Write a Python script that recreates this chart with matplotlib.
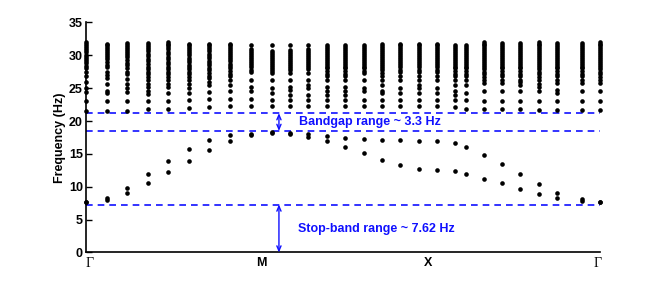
import matplotlib
matplotlib.use("Agg")
import matplotlib.pyplot as plt

# k-path positions of the computed columns (normalised 0..1 along Γ-M-X-Γ)
k_points = [0.0, 0.0408, 0.0808, 0.1205, 0.1605, 0.2007, 0.2402, 0.2804, 0.3212,
            0.3614, 0.3971, 0.4326, 0.4683, 0.5045, 0.5402, 0.5758, 0.6113, 0.6471,
            0.6827, 0.7186, 0.7384, 0.7740, 0.8090, 0.8440, 0.8803, 0.9153, 0.9639, 1.0]

# two lowest bands
band1 = [7.73, 8.0, 9.1, 10.5, 12.2, 13.9, 15.55, 16.95, 17.9, 18.25, 18.1, 17.6, 16.97, 16.06,
         15.1, 14.1, 13.3, 12.7, 12.5, 12.4, 11.95, 11.2, 10.5, 9.6, 8.9, 8.25, 7.9, 7.73]
band2 = [7.73, 8.25, 9.86, 11.9, 13.9, 15.8, 17.1, 17.95, 18.1, 18.3, 18.15, 18.1, 17.8, 17.4,
         17.2, 17.1, 17.1, 17.0, 17.0, 16.7, 16.0, 14.9, 13.5, 11.95, 10.4, 9.06, 8.14, 7.75]

# upper (optical) bands, one list per column
upper_bands = [
    [32.0, 31.7, 31.4, 31.1, 30.8, 30.5, 30.1, 29.8, 29.5, 29.1, 28.8, 28.4, 28.0, 27.4, 26.9, 26.0, 25.0, 24.4, 23.0, 21.6],
    [31.8, 31.5, 31.2, 30.9, 30.6, 30.3, 30.0, 29.7, 29.4, 29.0, 28.6, 28.2, 27.5, 27.0, 26.6, 25.6, 24.6, 24.3, 23.0, 21.6],
    [31.9, 31.6, 31.3, 31.0, 30.7, 30.4, 30.0, 29.7, 29.3, 28.9, 28.5, 28.0, 27.5, 27.1, 26.4, 25.7, 25.0, 24.4, 23.0, 21.6],
    [31.9, 31.6, 31.3, 31.0, 30.6, 30.2, 29.9, 29.5, 29.1, 28.7, 28.3, 27.9, 27.5, 27.1, 26.7, 26.2, 25.7, 25.2, 24.6, 24.1, 23.0, 21.8],
    [32.1, 31.8, 31.5, 31.2, 30.9, 30.5, 30.2, 29.8, 29.4, 29.0, 28.7, 28.3, 27.9, 27.5, 27.1, 26.7, 26.2, 25.7, 25.2, 24.2, 23.0, 21.9],
    [31.8, 31.5, 31.2, 30.9, 30.6, 30.3, 30.0, 29.6, 29.3, 29.0, 28.6, 28.2, 27.9, 27.5, 27.1, 26.7, 26.2, 25.7, 25.0, 24.2, 23.2, 22.0],
    [31.8, 31.5, 31.2, 30.9, 30.6, 30.2, 29.9, 29.6, 29.2, 28.9, 28.5, 28.1, 27.7, 27.3, 26.9, 26.5, 26.0, 25.5, 24.4, 23.3, 22.2],
    [31.8, 31.5, 31.2, 30.9, 30.6, 30.3, 30.0, 29.7, 29.4, 29.1, 28.7, 28.4, 28.0, 27.6, 27.2, 26.8, 26.2, 25.5, 24.5, 23.3, 22.3],
    [31.6, 30.9, 30.6, 30.3, 30.0, 29.7, 29.4, 29.1, 28.8, 28.5, 28.2, 27.8, 27.4, 26.3, 25.2, 24.5, 23.3, 22.3],
    [31.6, 30.6, 30.3, 30.0, 29.7, 29.4, 29.1, 28.8, 28.5, 28.2, 27.9, 27.6, 27.3, 26.3, 25.0, 24.2, 23.2, 22.3],
    [31.6, 30.8, 30.5, 30.2, 29.9, 29.6, 29.3, 29.0, 28.7, 28.4, 28.1, 27.8, 27.3, 26.3, 25.2, 24.7, 24.0, 23.2, 22.3],
    [31.6, 30.9, 30.6, 30.3, 30.0, 29.7, 29.4, 29.1, 28.8, 28.5, 28.2, 27.9, 27.3, 26.3, 25.5, 25.0, 24.0, 23.2, 22.3],
    [31.6, 31.3, 31.0, 30.7, 30.4, 30.1, 29.8, 29.5, 29.2, 28.9, 28.6, 28.3, 28.0, 27.6, 27.2, 26.8, 26.3, 25.2, 24.5, 24.0, 23.2, 22.3],
    [31.6, 31.3, 31.0, 30.7, 30.4, 30.1, 29.8, 29.5, 29.2, 28.9, 28.6, 28.3, 28.0, 27.6, 27.2, 26.8, 26.3, 25.2, 24.5, 24.0, 23.2, 22.3],
    [31.6, 31.3, 31.0, 30.7, 30.4, 30.1, 29.8, 29.5, 29.2, 28.9, 28.6, 28.3, 28.0, 27.6, 27.3, 26.3, 25.0, 24.5, 23.2, 22.3],
    [31.7, 31.4, 31.1, 30.8, 30.5, 30.2, 29.9, 29.6, 29.3, 29.0, 28.7, 28.4, 28.1, 27.7, 27.3, 26.8, 26.3, 25.5, 24.5, 24.2, 23.2, 22.3],
    [31.8, 31.5, 31.2, 30.9, 30.6, 30.3, 30.0, 29.7, 29.4, 29.1, 28.8, 28.5, 28.2, 27.8, 27.4, 26.8, 26.3, 25.0, 24.2, 23.2, 22.3],
    [31.8, 31.5, 31.2, 30.9, 30.6, 30.3, 30.0, 29.7, 29.4, 29.1, 28.8, 28.5, 28.2, 27.8, 27.4, 26.8, 26.3, 25.5, 25.0, 24.2, 23.2, 22.3],
    [31.8, 31.5, 31.2, 30.9, 30.6, 30.3, 30.0, 29.7, 29.4, 29.1, 28.8, 28.5, 28.2, 27.8, 27.4, 26.8, 26.3, 25.0, 24.2, 23.2, 22.3],
    [31.6, 31.3, 31.0, 30.7, 30.4, 30.1, 29.8, 29.5, 29.2, 28.9, 28.6, 28.3, 28.0, 27.6, 27.2, 26.8, 26.3, 25.5, 24.5, 24.0, 23.2, 22.1],
    [31.6, 31.3, 31.0, 30.7, 30.4, 30.1, 29.8, 29.5, 29.2, 28.9, 28.6, 28.3, 28.0, 27.6, 27.2, 26.8, 26.3, 25.5, 24.2, 23.2, 21.9],
    [32.1, 31.8, 31.5, 31.2, 30.9, 30.6, 30.3, 30.0, 29.7, 29.4, 29.1, 28.8, 28.5, 28.2, 27.9, 27.5, 27.1, 26.7, 26.2, 25.8, 24.5, 23.1, 21.8],
    [31.9, 31.6, 31.3, 31.0, 30.7, 30.4, 30.1, 29.8, 29.5, 29.2, 28.9, 28.6, 28.3, 28.0, 27.6, 27.2, 26.8, 26.3, 25.8, 24.5, 23.0, 21.8],
    [31.9, 31.6, 31.3, 31.0, 30.7, 30.4, 30.1, 29.8, 29.5, 29.2, 28.9, 28.6, 28.3, 28.0, 27.6, 27.2, 26.8, 26.3, 25.9, 25.5, 24.5, 23.0, 21.8],
    [32.1, 31.8, 31.5, 31.2, 30.9, 30.6, 30.3, 30.0, 29.7, 29.4, 29.1, 28.8, 28.5, 28.2, 27.9, 27.5, 27.1, 26.7, 26.2, 25.7, 25.2, 24.5, 23.0, 21.7],
    [31.9, 31.6, 31.3, 31.0, 30.7, 30.4, 30.1, 29.8, 29.5, 29.2, 28.9, 28.6, 28.3, 28.0, 27.6, 27.2, 26.8, 26.3, 25.8, 24.7, 24.2, 23.0, 21.7],
    [31.9, 31.6, 31.3, 31.0, 30.7, 30.4, 30.1, 29.8, 29.5, 29.2, 28.9, 28.6, 28.3, 28.0, 27.6, 27.2, 26.8, 26.3, 25.8, 24.5, 23.0, 21.7],
    [32.1, 31.8, 31.5, 31.2, 30.9, 30.6, 30.3, 30.0, 29.7, 29.4, 29.1, 28.8, 28.5, 28.2, 27.9, 27.5, 27.1, 26.7, 26.2, 25.8, 24.5, 23.0, 21.7],
]

# band edge lines
bandgap_top = 21.2
bandgap_bottom = 18.5
stopband_top = 7.3

# tick labels along the k path
tick_pos = [0.0084, 0.342, 0.665, 0.9955]
tick_labels = ["Γ", "M", "X", "Γ"]
y_ticks = [0, 5, 10, 15, 20, 25, 30, 35]

arrow_k = 0.3756
bandgap_text = "Bandgap range ~ 3.3 Hz"
stopband_text = "Stop-band range ~ 7.62 Hz"

plt.rcParams['font.family'] = ['Liberation Sans', 'DejaVu Sans']

fig = plt.figure(figsize=(6.64, 2.83), dpi=100)
ax = fig.add_axes([0.129, 0.1078, 0.775, 0.8127])

blue = "#1010ff"
dot = 11

for kk, freqs in zip(k_points, upper_bands):
    ax.scatter([kk] * len(freqs), freqs, s=dot, color="black", linewidths=0, clip_on=False, zorder=3)
ax.scatter(k_points, band1, s=dot, color="black", linewidths=0, clip_on=False, zorder=3)
ax.scatter(k_points, band2, s=dot, color="black", linewidths=0, clip_on=False, zorder=3)

for yv in (bandgap_top, bandgap_bottom, stopband_top):
    ax.axhline(yv, color=blue, lw=1.2, linestyle=(0, (4, 3)), zorder=2)

ax.annotate("", xy=(arrow_k, bandgap_top), xytext=(arrow_k, bandgap_bottom),
            arrowprops=dict(arrowstyle="<->,head_length=0.35,head_width=0.15", color=blue, lw=1.0,
                            shrinkA=0, shrinkB=0))
ax.annotate("", xy=(arrow_k, stopband_top), xytext=(arrow_k, 0),
            arrowprops=dict(arrowstyle="<->,head_length=0.35,head_width=0.15", color=blue, lw=1.0,
                            shrinkA=0, shrinkB=0))

ax.text(0.415, 19.85, bandgap_text, color=blue, fontsize=9, fontweight="bold", va="center", ha="left")
ax.text(0.413, 3.5, stopband_text, color=blue, fontsize=9, fontweight="bold", va="center", ha="left")

ax.set_xlim(0, 1)
ax.set_ylim(0, 35)
ax.set_yticks(y_ticks)
ax.set_yticklabels([str(v) for v in y_ticks], fontsize=9, fontweight="bold")
ax.set_xticks(tick_pos)
ax.set_xticklabels(tick_labels)
for lab in ax.get_xticklabels():
    if lab.get_text() == "Γ":
        lab.set_fontfamily("Liberation Serif")
        lab.set_fontweight("normal")
        lab.set_fontsize(10)
    else:
        lab.set_fontweight("bold")
        lab.set_fontsize(9)
ax.tick_params(axis="x", length=0, pad=3)
ax.tick_params(axis="y", direction="in", length=4, width=1.0, pad=2)
ax.set_ylabel("Frequency (Hz)", fontsize=9, fontweight="bold", labelpad=2)

ax.spines["top"].set_visible(False)
ax.spines["right"].set_visible(False)
ax.spines["left"].set_linewidth(1.2)
ax.spines["bottom"].set_linewidth(1.2)

fig.savefig("out.png", dpi=100)
